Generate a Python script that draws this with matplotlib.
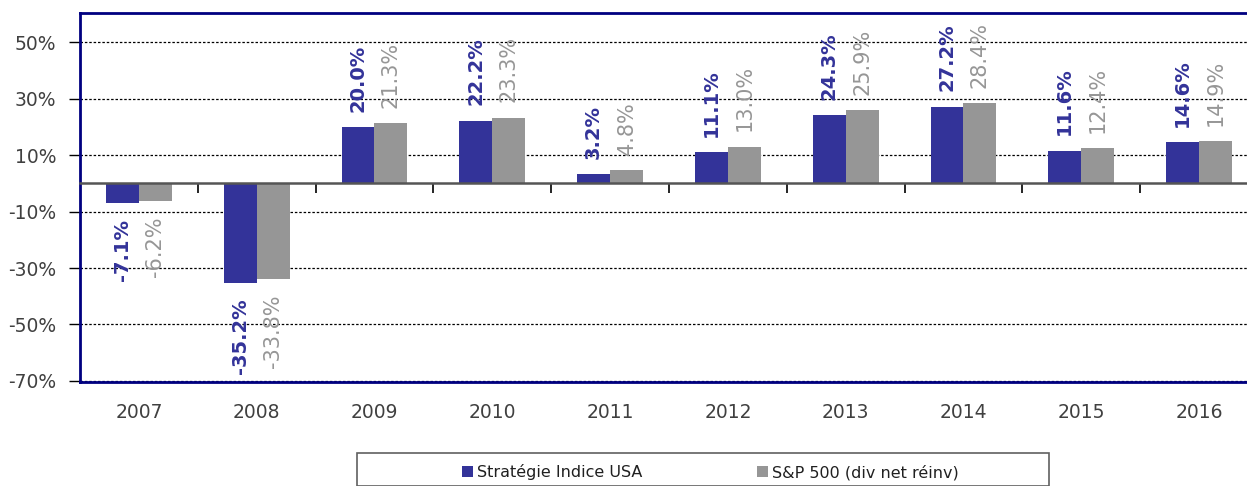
import numpy as np
import matplotlib.pyplot as plt
from matplotlib.patches import Rectangle, Patch


# ============================================================
# データ
# ============================================================
YEARS = ["2007", "2008", "2009", "2010", "2011", "2012", "2013", "2014", "2015", "2016"]
STRAT = [-7.1, -35.2, 20.0, 22.2, 3.2, 11.1, 24.3, 27.2, 11.6, 14.6]
SP500 = [-6.2, -33.8, 21.3, 23.3, 4.8, 13.0, 25.9, 28.4, 12.4, 14.9]
SERIES_NAMES = ["Stratégie Indice USA", "S&P 500 (div net réinv)"]
YTICKS = [-70, -50, -30, -10, 10, 30, 50]

BLUE = "#333399"
GRAY = "#969696"
NAVY = "#000080"
TXT = "#404040"

YMIN, YMAX = -70.4, 60.4
BAR_W = 0.28


# ============================================================
# 図
# ============================================================
W, H = 1247, 486
fig = plt.figure(figsize=(W / 100, H / 100), dpi=100)
ax = fig.add_axes([80 / W, 1 - 382 / H, 1178 / W, 369 / H])

x = np.arange(len(YEARS))
ax.bar(x - BAR_W / 2, STRAT, BAR_W, color=BLUE, zorder=3)
ax.bar(x + BAR_W / 2, SP500, BAR_W, color=GRAY, zorder=3)

# 値ラベル（縦書き）
for xi, v in zip(x, STRAT):
    ax.annotate(
        f"{v:.1f}%",
        xy=(xi - BAR_W / 2, v),
        xytext=(0, 11 if v >= 0 else -11),
        textcoords="offset points",
        rotation=90,
        ha="center",
        va="bottom" if v >= 0 else "top",
        color=BLUE,
        fontsize=14,
        fontweight="bold",
        zorder=5,
    )
for xi, v in zip(x, SP500):
    ax.annotate(
        f"{v:.1f}%",
        xy=(xi + BAR_W / 2, v),
        xytext=(0, 11 if v >= 0 else -11),
        textcoords="offset points",
        rotation=90,
        ha="center",
        va="bottom" if v >= 0 else "top",
        color=GRAY,
        fontsize=15,
        zorder=5,
    )

ax.set_xlim(-0.5, len(YEARS) - 0.5)
ax.set_ylim(YMIN, YMAX)

ax.set_yticks(YTICKS)
ax.set_yticklabels([f"{t}%" for t in YTICKS])
ax.tick_params(axis="y", length=8, width=1, color="black", pad=9,
               labelsize=13.5, labelcolor=TXT)
ax.yaxis.grid(True, color="black", linestyle=(0, (2, 1.5)), linewidth=0.9)
ax.set_axisbelow(True)

ax.set_xticks(x)
ax.set_xticklabels(YEARS)
ax.tick_params(axis="x", length=0, pad=15, labelsize=13.5, labelcolor=TXT)

for side in ["left", "top", "bottom"]:
    ax.spines[side].set_color(NAVY)
    ax.spines[side].set_linewidth(2)
ax.spines["right"].set_visible(False)

# ゼロ線（区切り目盛り付き、下向き）
zero_pos = (0 - YMIN) / (YMAX - YMIN)
sec = ax.secondary_xaxis(zero_pos)
sec.set_xticks(x[:-1] + 0.5)
sec.set_xticklabels([])
sec.tick_params(axis="x", direction="in", length=7, width=1.2, color="black")
for s in sec.spines.values():
    s.set_color("#555555")
    s.set_linewidth(1.8)
sec.set_zorder(4)

# 凡例
fig.patches.append(
    Rectangle((357 / W, 0), 692 / W, 1 - 453 / H, transform=fig.transFigure,
              facecolor="none", edgecolor="#606060", linewidth=1.2)
)
handles = [Patch(facecolor=BLUE), Patch(facecolor=GRAY)]
fig.legend(
    handles, SERIES_NAMES,
    loc="center left",
    bbox_to_anchor=(448 / W, 1 - 472 / H),
    ncol=2,
    frameon=False,
    fontsize=11.5,
    labelcolor="#202020",
    handlelength=0.65,
    handleheight=0.65,
    handletextpad=0.25,
    columnspacing=7.2,
)

fig.savefig("out.png", dpi=100)
